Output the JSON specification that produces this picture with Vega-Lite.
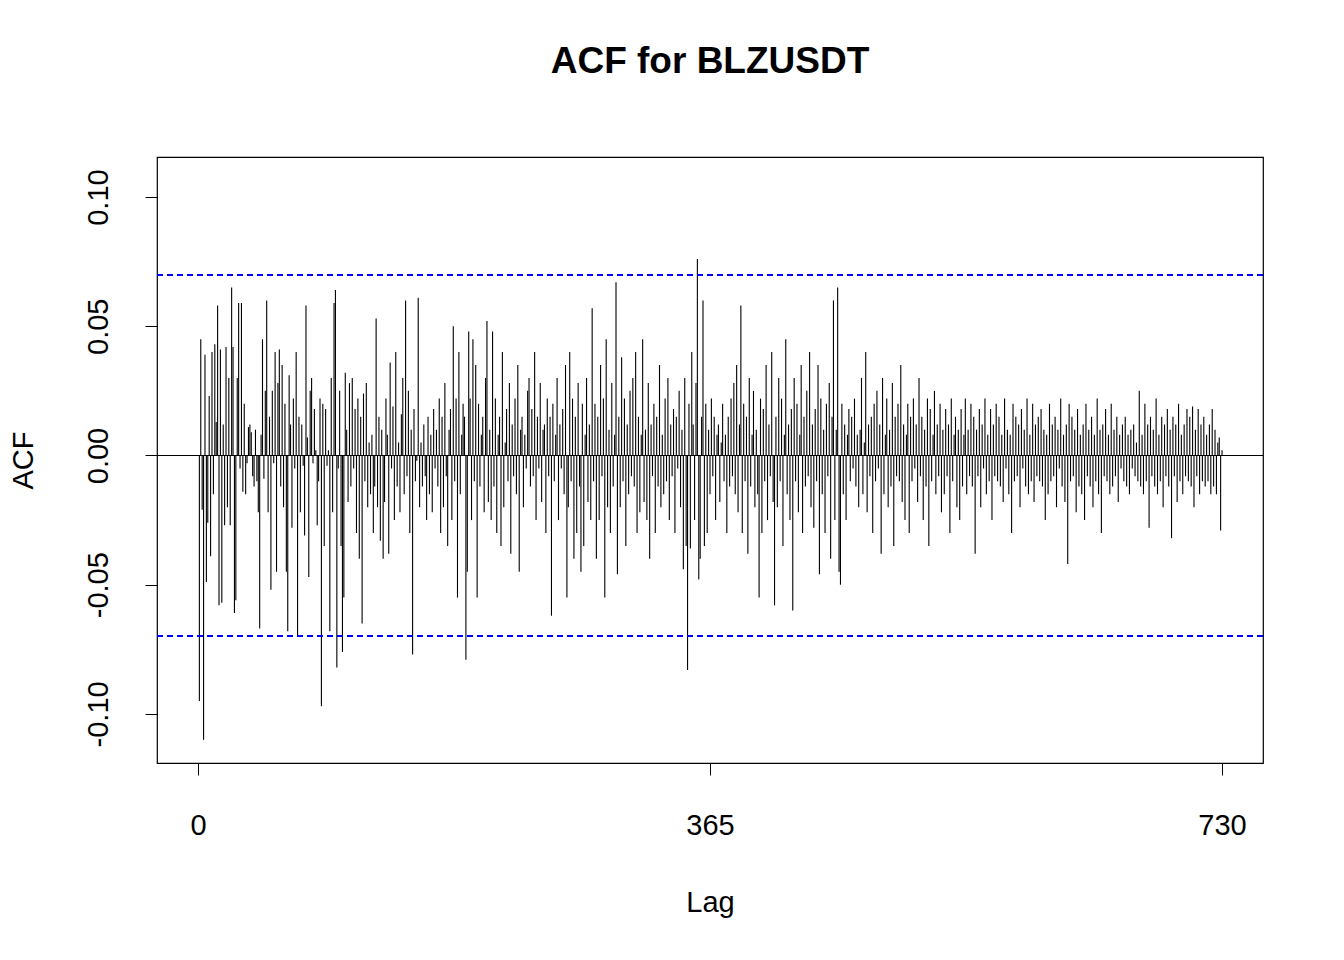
{
"$schema": "https://vega.github.io/schema/vega-lite/v6.json",
"autosize": {"type": "none"},
"padding": {"left": 157, "top": 157, "right": 81, "bottom": 197},
"width": 1106,
"height": 606,
"background": "white",
"config": {"view": {"stroke": "black", "strokeWidth": 1.2}, "font": "Liberation Sans"},
"title": {"text": "ACF for BLZUSDT", "fontSize": 37, "fontWeight": "bold", "font": "Liberation Sans", "color": "black", "offset": 76},
"data": {"values": [
{"k":1,"v":-0.095},{"k":2,"v":0.045},{"k":3,"v":-0.021},{"k":4,"v":-0.110},{"k":5,"v":0.039},{"k":6,"v":-0.049},{"k":7,"v":-0.026},{"k":8,"v":0.023},{"k":9,"v":-0.039},{"k":10,"v":0.040},
{"k":11,"v":-0.015},{"k":12,"v":0.043},{"k":13,"v":0.013},{"k":14,"v":0.058},{"k":15,"v":-0.058},{"k":16,"v":0.041},{"k":17,"v":-0.057},{"k":18,"v":0.012},{"k":19,"v":-0.027},{"k":20,"v":0.042},
{"k":21,"v":-0.020},{"k":22,"v":0.030},{"k":23,"v":-0.027},{"k":24,"v":0.065},{"k":25,"v":0.042},{"k":26,"v":-0.061},{"k":27,"v":-0.056},{"k":28,"v":0.030},{"k":29,"v":0.059},{"k":30,"v":-0.005},
{"k":31,"v":0.059},{"k":32,"v":-0.014},{"k":33,"v":0.020},{"k":34,"v":-0.015},{"k":35,"v":-0.003},{"k":36,"v":0.011},{"k":37,"v":0.012},{"k":38,"v":0.009},{"k":39,"v":-0.008},{"k":40,"v":-0.012},
{"k":41,"v":0.010},{"k":42,"v":-0.010},{"k":43,"v":-0.022},{"k":44,"v":-0.067},{"k":45,"v":0.008},{"k":46,"v":0.045},{"k":47,"v":-0.009},{"k":48,"v":0.025},{"k":49,"v":0.060},{"k":50,"v":-0.022},
{"k":51,"v":0.015},{"k":52,"v":-0.052},{"k":53,"v":0.025},{"k":54,"v":-0.003},{"k":55,"v":0.040},{"k":56,"v":-0.045},{"k":57,"v":0.028},{"k":58,"v":0.041},{"k":59,"v":-0.012},{"k":60,"v":0.035},
{"k":61,"v":-0.020},{"k":62,"v":0.020},{"k":63,"v":-0.045},{"k":64,"v":-0.068},{"k":65,"v":0.031},{"k":66,"v":0.012},{"k":67,"v":-0.028},{"k":68,"v":0.022},{"k":69,"v":-0.005},{"k":70,"v":0.040},
{"k":71,"v":-0.070},{"k":72,"v":0.015},{"k":73,"v":-0.022},{"k":74,"v":0.012},{"k":75,"v":-0.004},{"k":76,"v":-0.031},{"k":77,"v":0.058},{"k":78,"v":0.007},{"k":79,"v":-0.047},{"k":80,"v":0.025},
{"k":81,"v":0.030},{"k":82,"v":-0.003},{"k":83,"v":0.018},{"k":84,"v":0.002},{"k":85,"v":-0.027},{"k":86,"v":-0.010},{"k":87,"v":0.022},{"k":88,"v":-0.097},{"k":89,"v":0.020},{"k":90,"v":-0.035},
{"k":91,"v":0.018},{"k":92,"v":-0.004},{"k":93,"v":0.002},{"k":94,"v":-0.068},{"k":95,"v":0.030},{"k":96,"v":-0.022},{"k":97,"v":0.059},{"k":98,"v":0.064},{"k":99,"v":-0.082},{"k":100,"v":-0.005},
{"k":101,"v":0.025},{"k":102,"v":-0.035},{"k":103,"v":-0.076},{"k":104,"v":-0.055},{"k":105,"v":0.032},{"k":106,"v":0.010},{"k":107,"v":-0.018},{"k":108,"v":0.028},{"k":109,"v":-0.012},{"k":110,"v":0.030},
{"k":111,"v":-0.005},{"k":112,"v":0.018},{"k":113,"v":-0.030},{"k":114,"v":0.022},{"k":115,"v":-0.040},{"k":116,"v":0.015},{"k":117,"v":-0.065},{"k":118,"v":0.024},{"k":119,"v":-0.010},{"k":120,"v":0.028},
{"k":121,"v":-0.020},{"k":122,"v":0.005},{"k":123,"v":-0.015},{"k":124,"v":0.008},{"k":125,"v":-0.030},{"k":126,"v":-0.012},{"k":127,"v":0.053},{"k":128,"v":-0.020},{"k":129,"v":0.015},{"k":130,"v":-0.033},
{"k":131,"v":0.010},{"k":132,"v":-0.040},{"k":133,"v":-0.018},{"k":134,"v":0.022},{"k":135,"v":0.008},{"k":136,"v":-0.038},{"k":137,"v":0.036},{"k":138,"v":-0.005},{"k":139,"v":0.019},{"k":140,"v":-0.025},
{"k":141,"v":0.040},{"k":142,"v":-0.012},{"k":143,"v":0.005},{"k":144,"v":-0.022},{"k":145,"v":0.016},{"k":146,"v":0.030},{"k":147,"v":-0.015},{"k":148,"v":0.060},{"k":149,"v":-0.008},{"k":150,"v":0.025},
{"k":151,"v":-0.030},{"k":152,"v":0.010},{"k":153,"v":-0.077},{"k":154,"v":0.018},{"k":155,"v":-0.010},{"k":156,"v":-0.002},{"k":157,"v":0.061},{"k":158,"v":-0.020},{"k":159,"v":0.005},{"k":160,"v":-0.012},
{"k":161,"v":0.012},{"k":162,"v":-0.008},{"k":163,"v":-0.025},{"k":164,"v":0.015},{"k":165,"v":-0.015},{"k":166,"v":0.008},{"k":167,"v":-0.022},{"k":168,"v":0.018},{"k":169,"v":-0.005},{"k":170,"v":0.010},
{"k":171,"v":-0.012},{"k":172,"v":0.022},{"k":173,"v":-0.030},{"k":174,"v":0.015},{"k":175,"v":-0.020},{"k":176,"v":0.028},{"k":177,"v":-0.008},{"k":178,"v":-0.035},{"k":179,"v":0.010},{"k":180,"v":0.018},
{"k":181,"v":-0.025},{"k":182,"v":0.050},{"k":183,"v":-0.010},{"k":184,"v":0.022},{"k":185,"v":-0.055},{"k":186,"v":0.040},{"k":187,"v":-0.015},{"k":188,"v":0.008},{"k":189,"v":0.020},{"k":190,"v":0.015},
{"k":191,"v":-0.079},{"k":192,"v":-0.045},{"k":193,"v":0.048},{"k":194,"v":0.022},{"k":195,"v":-0.025},{"k":196,"v":0.045},{"k":197,"v":-0.010},{"k":198,"v":0.035},{"k":199,"v":-0.055},{"k":200,"v":0.020},
{"k":201,"v":-0.012},{"k":202,"v":0.008},{"k":203,"v":0.015},{"k":204,"v":-0.022},{"k":205,"v":0.030},{"k":206,"v":0.052},{"k":207,"v":-0.018},{"k":208,"v":0.010},{"k":209,"v":-0.025},{"k":210,"v":0.048},
{"k":211,"v":-0.012},{"k":212,"v":0.022},{"k":213,"v":-0.030},{"k":214,"v":0.008},{"k":215,"v":0.015},{"k":216,"v":-0.035},{"k":217,"v":0.040},{"k":218,"v":-0.020},{"k":219,"v":0.005},{"k":220,"v":0.018},
{"k":221,"v":-0.010},{"k":222,"v":0.028},{"k":223,"v":-0.038},{"k":224,"v":0.012},{"k":225,"v":-0.008},{"k":226,"v":0.022},{"k":227,"v":-0.015},{"k":228,"v":0.035},{"k":229,"v":-0.045},{"k":230,"v":0.010},
{"k":231,"v":0.015},{"k":232,"v":-0.020},{"k":233,"v":0.008},{"k":234,"v":-0.005},{"k":235,"v":0.025},{"k":236,"v":0.030},{"k":237,"v":-0.012},{"k":238,"v":0.018},{"k":239,"v":-0.008},{"k":240,"v":0.040},
{"k":241,"v":-0.025},{"k":242,"v":0.015},{"k":243,"v":-0.005},{"k":244,"v":0.028},{"k":245,"v":-0.018},{"k":246,"v":0.010},{"k":247,"v":0.012},{"k":248,"v":-0.030},{"k":249,"v":0.022},{"k":250,"v":-0.008},
{"k":251,"v":0.015},{"k":252,"v":-0.062},{"k":253,"v":0.020},{"k":254,"v":-0.010},{"k":255,"v":0.008},{"k":256,"v":0.030},{"k":257,"v":-0.025},{"k":258,"v":0.012},{"k":259,"v":-0.005},{"k":260,"v":0.018},
{"k":261,"v":-0.015},{"k":262,"v":0.035},{"k":263,"v":-0.055},{"k":264,"v":-0.020},{"k":265,"v":0.040},{"k":266,"v":-0.010},{"k":267,"v":0.022},{"k":268,"v":-0.040},{"k":269,"v":0.015},{"k":270,"v":-0.030},
{"k":271,"v":0.028},{"k":272,"v":-0.012},{"k":273,"v":-0.045},{"k":274,"v":0.020},{"k":275,"v":-0.035},{"k":276,"v":0.008},{"k":277,"v":0.030},{"k":278,"v":-0.018},{"k":279,"v":0.012},{"k":280,"v":-0.025},
{"k":281,"v":0.057},{"k":282,"v":-0.010},{"k":283,"v":0.020},{"k":284,"v":-0.040},{"k":285,"v":0.015},{"k":286,"v":-0.025},{"k":287,"v":0.035},{"k":288,"v":-0.008},{"k":289,"v":0.022},{"k":290,"v":-0.055},
{"k":291,"v":0.045},{"k":292,"v":-0.020},{"k":293,"v":0.010},{"k":294,"v":-0.030},{"k":295,"v":0.028},{"k":296,"v":-0.012},{"k":297,"v":0.008},{"k":298,"v":0.067},{"k":299,"v":-0.046},{"k":300,"v":0.015},
{"k":301,"v":-0.020},{"k":302,"v":0.038},{"k":303,"v":-0.010},{"k":304,"v":0.022},{"k":305,"v":-0.035},{"k":306,"v":0.012},{"k":307,"v":-0.015},{"k":308,"v":0.025},{"k":309,"v":-0.008},{"k":310,"v":0.030},
{"k":311,"v":-0.012},{"k":312,"v":0.040},{"k":313,"v":-0.030},{"k":314,"v":0.015},{"k":315,"v":-0.022},{"k":316,"v":0.008},{"k":317,"v":0.045},{"k":318,"v":-0.018},{"k":319,"v":0.010},{"k":320,"v":-0.025},
{"k":321,"v":0.028},{"k":322,"v":-0.040},{"k":323,"v":0.012},{"k":324,"v":-0.008},{"k":325,"v":0.020},{"k":326,"v":-0.030},{"k":327,"v":0.015},{"k":328,"v":-0.012},{"k":329,"v":0.035},{"k":330,"v":-0.020},
{"k":331,"v":0.008},{"k":332,"v":-0.015},{"k":333,"v":0.022},{"k":334,"v":-0.010},{"k":335,"v":0.030},{"k":336,"v":-0.025},{"k":337,"v":0.012},{"k":338,"v":-0.008},{"k":339,"v":0.018},{"k":340,"v":-0.030},
{"k":341,"v":0.015},{"k":342,"v":-0.005},{"k":343,"v":0.025},{"k":344,"v":-0.020},{"k":345,"v":0.010},{"k":346,"v":-0.044},{"k":347,"v":0.030},{"k":348,"v":-0.035},{"k":349,"v":-0.083},{"k":350,"v":0.020},
{"k":351,"v":-0.036},{"k":352,"v":0.040},{"k":353,"v":0.012},{"k":354,"v":-0.025},{"k":355,"v":0.028},{"k":356,"v":0.076},{"k":357,"v":-0.048},{"k":358,"v":-0.040},{"k":359,"v":0.015},{"k":360,"v":0.060},
{"k":361,"v":-0.035},{"k":362,"v":0.020},{"k":363,"v":-0.030},{"k":364,"v":0.010},{"k":365,"v":-0.015},{"k":366,"v":0.022},{"k":367,"v":-0.008},{"k":368,"v":0.015},{"k":369,"v":-0.025},{"k":370,"v":0.008},
{"k":371,"v":0.012},{"k":372,"v":-0.018},{"k":373,"v":0.005},{"k":374,"v":0.020},{"k":375,"v":-0.010},{"k":376,"v":0.008},{"k":377,"v":-0.030},{"k":378,"v":0.015},{"k":379,"v":-0.012},{"k":380,"v":0.022},
{"k":381,"v":-0.008},{"k":382,"v":0.028},{"k":383,"v":-0.015},{"k":384,"v":0.035},{"k":385,"v":-0.022},{"k":386,"v":0.012},{"k":387,"v":0.058},{"k":388,"v":-0.030},{"k":389,"v":0.020},{"k":390,"v":-0.010},
{"k":391,"v":0.015},{"k":392,"v":-0.038},{"k":393,"v":0.030},{"k":394,"v":-0.012},{"k":395,"v":0.008},{"k":396,"v":0.025},{"k":397,"v":-0.020},{"k":398,"v":0.010},{"k":399,"v":-0.015},{"k":400,"v":-0.055},
{"k":401,"v":0.022},{"k":402,"v":-0.030},{"k":403,"v":0.018},{"k":404,"v":-0.010},{"k":405,"v":0.035},{"k":406,"v":-0.025},{"k":407,"v":0.012},{"k":408,"v":-0.008},{"k":409,"v":0.040},{"k":410,"v":-0.018},
{"k":411,"v":-0.058},{"k":412,"v":0.015},{"k":413,"v":-0.020},{"k":414,"v":0.030},{"k":415,"v":-0.010},{"k":416,"v":0.022},{"k":417,"v":-0.035},{"k":418,"v":0.008},{"k":419,"v":0.045},{"k":420,"v":-0.015},
{"k":421,"v":0.012},{"k":422,"v":-0.025},{"k":423,"v":0.018},{"k":424,"v":-0.060},{"k":425,"v":0.030},{"k":426,"v":-0.010},{"k":427,"v":0.020},{"k":428,"v":-0.022},{"k":429,"v":0.008},{"k":430,"v":0.035},
{"k":431,"v":-0.030},{"k":432,"v":0.015},{"k":433,"v":-0.012},{"k":434,"v":0.025},{"k":435,"v":-0.008},{"k":436,"v":0.040},{"k":437,"v":-0.020},{"k":438,"v":0.012},{"k":439,"v":-0.028},{"k":440,"v":0.018},
{"k":441,"v":-0.010},{"k":442,"v":0.035},{"k":443,"v":-0.046},{"k":444,"v":0.022},{"k":445,"v":-0.015},{"k":446,"v":0.010},{"k":447,"v":-0.030},{"k":448,"v":0.020},{"k":449,"v":-0.008},{"k":450,"v":0.028},
{"k":451,"v":-0.040},{"k":452,"v":0.015},{"k":453,"v":0.060},{"k":454,"v":-0.025},{"k":455,"v":0.010},{"k":456,"v":0.065},{"k":457,"v":-0.045},{"k":458,"v":-0.050},{"k":459,"v":0.020},{"k":460,"v":-0.015},
{"k":461,"v":0.012},{"k":462,"v":-0.025},{"k":463,"v":0.008},{"k":464,"v":0.018},{"k":465,"v":-0.010},{"k":466,"v":0.015},{"k":467,"v":-0.005},{"k":468,"v":0.022},{"k":469,"v":-0.012},{"k":470,"v":0.008},
{"k":471,"v":-0.020},{"k":472,"v":0.010},{"k":473,"v":0.030},{"k":474,"v":-0.015},{"k":475,"v":0.005},{"k":476,"v":0.040},{"k":477,"v":-0.022},{"k":478,"v":0.012},{"k":479,"v":-0.008},{"k":480,"v":0.015},
{"k":481,"v":-0.030},{"k":482,"v":0.020},{"k":483,"v":-0.010},{"k":484,"v":0.025},{"k":485,"v":-0.005},{"k":486,"v":0.012},{"k":487,"v":-0.038},{"k":488,"v":0.030},{"k":489,"v":-0.015},{"k":490,"v":0.008},
{"k":491,"v":0.022},{"k":492,"v":-0.020},{"k":493,"v":0.010},{"k":494,"v":-0.012},{"k":495,"v":0.028},{"k":496,"v":-0.035},{"k":497,"v":0.015},{"k":498,"v":-0.008},{"k":499,"v":0.020},{"k":500,"v":-0.010},
{"k":501,"v":0.035},{"k":502,"v":-0.018},{"k":503,"v":0.012},{"k":504,"v":-0.025},{"k":505,"v":0.008},{"k":506,"v":0.020},{"k":507,"v":-0.030},{"k":508,"v":0.015},{"k":509,"v":-0.010},{"k":510,"v":0.022},
{"k":511,"v":-0.005},{"k":512,"v":0.012},{"k":513,"v":-0.018},{"k":514,"v":0.030},{"k":515,"v":-0.008},{"k":516,"v":0.015},{"k":517,"v":-0.025},{"k":518,"v":0.010},{"k":519,"v":-0.012},{"k":520,"v":0.022},
{"k":521,"v":-0.035},{"k":522,"v":0.018},{"k":523,"v":-0.010},{"k":524,"v":0.008},{"k":525,"v":0.025},{"k":526,"v":-0.015},{"k":527,"v":0.012},{"k":528,"v":-0.008},{"k":529,"v":0.020},{"k":530,"v":-0.022},
{"k":531,"v":0.010},{"k":532,"v":-0.015},{"k":533,"v":0.018},{"k":534,"v":-0.008},{"k":535,"v":0.012},{"k":536,"v":-0.030},{"k":537,"v":0.022},{"k":538,"v":-0.010},{"k":539,"v":0.008},{"k":540,"v":0.015},
{"k":541,"v":-0.020},{"k":542,"v":0.010},{"k":543,"v":-0.025},{"k":544,"v":0.018},{"k":545,"v":-0.012},{"k":546,"v":0.008},{"k":547,"v":0.022},{"k":548,"v":-0.015},{"k":549,"v":0.010},{"k":550,"v":-0.008},
{"k":551,"v":0.020},{"k":552,"v":-0.012},{"k":553,"v":0.015},{"k":554,"v":-0.038},{"k":555,"v":0.010},{"k":556,"v":-0.008},{"k":557,"v":0.018},{"k":558,"v":-0.020},{"k":559,"v":0.012},{"k":560,"v":-0.005},
{"k":561,"v":0.022},{"k":562,"v":-0.015},{"k":563,"v":0.008},{"k":564,"v":-0.010},{"k":565,"v":0.018},{"k":566,"v":-0.025},{"k":567,"v":0.012},{"k":568,"v":-0.008},{"k":569,"v":0.020},{"k":570,"v":-0.010},
{"k":571,"v":0.015},{"k":572,"v":-0.012},{"k":573,"v":0.008},{"k":574,"v":-0.018},{"k":575,"v":0.022},{"k":576,"v":-0.005},{"k":577,"v":0.010},{"k":578,"v":-0.015},{"k":579,"v":0.008},{"k":580,"v":-0.030},
{"k":581,"v":0.020},{"k":582,"v":-0.010},{"k":583,"v":0.015},{"k":584,"v":-0.008},{"k":585,"v":0.012},{"k":586,"v":-0.020},{"k":587,"v":0.018},{"k":588,"v":-0.005},{"k":589,"v":0.010},{"k":590,"v":-0.012},
{"k":591,"v":0.022},{"k":592,"v":-0.015},{"k":593,"v":0.008},{"k":594,"v":-0.010},{"k":595,"v":0.020},{"k":596,"v":-0.018},{"k":597,"v":0.012},{"k":598,"v":-0.008},{"k":599,"v":0.015},{"k":600,"v":-0.010},
{"k":601,"v":0.018},{"k":602,"v":-0.012},{"k":603,"v":0.010},{"k":604,"v":-0.025},{"k":605,"v":0.008},{"k":606,"v":-0.015},{"k":607,"v":0.020},{"k":608,"v":-0.010},{"k":609,"v":0.012},{"k":610,"v":-0.008},
{"k":611,"v":0.015},{"k":612,"v":-0.020},{"k":613,"v":0.010},{"k":614,"v":-0.005},{"k":615,"v":0.022},{"k":616,"v":-0.012},{"k":617,"v":0.008},{"k":618,"v":-0.018},{"k":619,"v":0.012},{"k":620,"v":-0.042},
{"k":621,"v":0.020},{"k":622,"v":-0.010},{"k":623,"v":0.015},{"k":624,"v":-0.008},{"k":625,"v":0.010},{"k":626,"v":-0.022},{"k":627,"v":0.018},{"k":628,"v":-0.012},{"k":629,"v":0.008},{"k":630,"v":-0.015},
{"k":631,"v":0.012},{"k":632,"v":-0.025},{"k":633,"v":0.020},{"k":634,"v":-0.008},{"k":635,"v":0.010},{"k":636,"v":-0.012},{"k":637,"v":0.015},{"k":638,"v":-0.020},{"k":639,"v":0.008},{"k":640,"v":-0.010},
{"k":641,"v":0.022},{"k":642,"v":-0.015},{"k":643,"v":0.010},{"k":644,"v":-0.030},{"k":645,"v":0.012},{"k":646,"v":-0.008},{"k":647,"v":0.018},{"k":648,"v":-0.010},{"k":649,"v":0.008},{"k":650,"v":-0.015},
{"k":651,"v":0.020},{"k":652,"v":-0.012},{"k":653,"v":0.010},{"k":654,"v":-0.008},{"k":655,"v":0.015},{"k":656,"v":-0.018},{"k":657,"v":0.008},{"k":658,"v":-0.005},{"k":659,"v":0.012},{"k":660,"v":-0.010},
{"k":661,"v":0.015},{"k":662,"v":-0.012},{"k":663,"v":0.008},{"k":664,"v":-0.015},{"k":665,"v":0.010},{"k":666,"v":-0.005},{"k":667,"v":0.012},{"k":668,"v":-0.008},{"k":669,"v":0.005},{"k":670,"v":-0.010},
{"k":671,"v":0.025},{"k":672,"v":-0.012},{"k":673,"v":0.008},{"k":674,"v":-0.015},{"k":675,"v":0.020},{"k":676,"v":-0.010},{"k":677,"v":0.012},{"k":678,"v":-0.028},{"k":679,"v":0.015},{"k":680,"v":-0.008},
{"k":681,"v":0.010},{"k":682,"v":-0.012},{"k":683,"v":0.022},{"k":684,"v":-0.015},{"k":685,"v":0.008},{"k":686,"v":-0.010},{"k":687,"v":0.015},{"k":688,"v":-0.020},{"k":689,"v":0.012},{"k":690,"v":-0.008},
{"k":691,"v":0.018},{"k":692,"v":-0.012},{"k":693,"v":0.010},{"k":694,"v":-0.032},{"k":695,"v":0.015},{"k":696,"v":-0.008},{"k":697,"v":0.012},{"k":698,"v":-0.018},{"k":699,"v":0.020},{"k":700,"v":-0.010},
{"k":701,"v":0.008},{"k":702,"v":-0.015},{"k":703,"v":0.012},{"k":704,"v":-0.008},{"k":705,"v":0.018},{"k":706,"v":-0.010},{"k":707,"v":0.015},{"k":708,"v":-0.012},{"k":709,"v":0.019},{"k":710,"v":-0.020},
{"k":711,"v":0.010},{"k":712,"v":-0.008},{"k":713,"v":0.018},{"k":714,"v":-0.015},{"k":715,"v":0.012},{"k":716,"v":-0.010},{"k":717,"v":0.015},{"k":718,"v":-0.012},{"k":719,"v":0.008},{"k":720,"v":-0.010},
{"k":721,"v":0.012},{"k":722,"v":-0.015},{"k":723,"v":0.018},{"k":724,"v":-0.012},{"k":725,"v":0.010},{"k":726,"v":-0.015},{"k":727,"v":0.005},{"k":728,"v":0.007},{"k":729,"v":-0.029},{"k":730,"v":0.002}
]},
"encoding": {
  "x": {"field": "k", "type": "quantitative", "title": "Lag",
        "scale": {"domain": [-29.2, 759.2], "nice": false, "zero": false},
        "axis": {"values": [0, 365, 730], "grid": false, "domain": false, "tickSize": 12, "tickColor": "black",
                 "labelFontSize": 29, "labelColor": "black", "labelPadding": 36,
                 "titleFontSize": 29, "titleFontWeight": "normal", "titleColor": "black", "titlePadding": 48,
                 "labelFont": "Liberation Sans", "titleFont": "Liberation Sans"}},
  "y": {"field": "v", "type": "quantitative", "title": "ACF",
        "scale": {"domain": [-0.119, 0.1155], "nice": false, "zero": false},
        "axis": {"values": [-0.1, -0.05, 0, 0.05, 0.1], "grid": false, "domain": false, "tickSize": 12, "tickColor": "black",
                 "labelExpr": "replace(format(datum.value, '.2f'), '\u2212', '-')",
                 "labelAngle": -90, "labelAlign": "center", "labelBaseline": "bottom",
                 "labelFontSize": 29, "labelColor": "black", "labelPadding": 32,
                 "titleFontSize": 29, "titleFontWeight": "normal", "titleColor": "black", "titlePadding": 46,
                 "labelFont": "Liberation Sans", "titleFont": "Liberation Sans"}}
},
"layer": [
  {"mark": {"type": "rule", "color": "black", "strokeWidth": 1.1}, "encoding": {"y2": {"datum": 0}}},
  {"mark": {"type": "rule", "color": "black", "strokeWidth": 1.2}, "encoding": {"x": null, "y": {"datum": 0}}},
  {"mark": {"type": "rule", "color": "#0000ff", "strokeWidth": 1.3, "strokeDash": [6, 4]}, "encoding": {"x": null, "y": {"datum": 0.0698}}},
  {"mark": {"type": "rule", "color": "#0000ff", "strokeWidth": 1.3, "strokeDash": [6, 4]}, "encoding": {"x": null, "y": {"datum": -0.0698}}}
]
}
